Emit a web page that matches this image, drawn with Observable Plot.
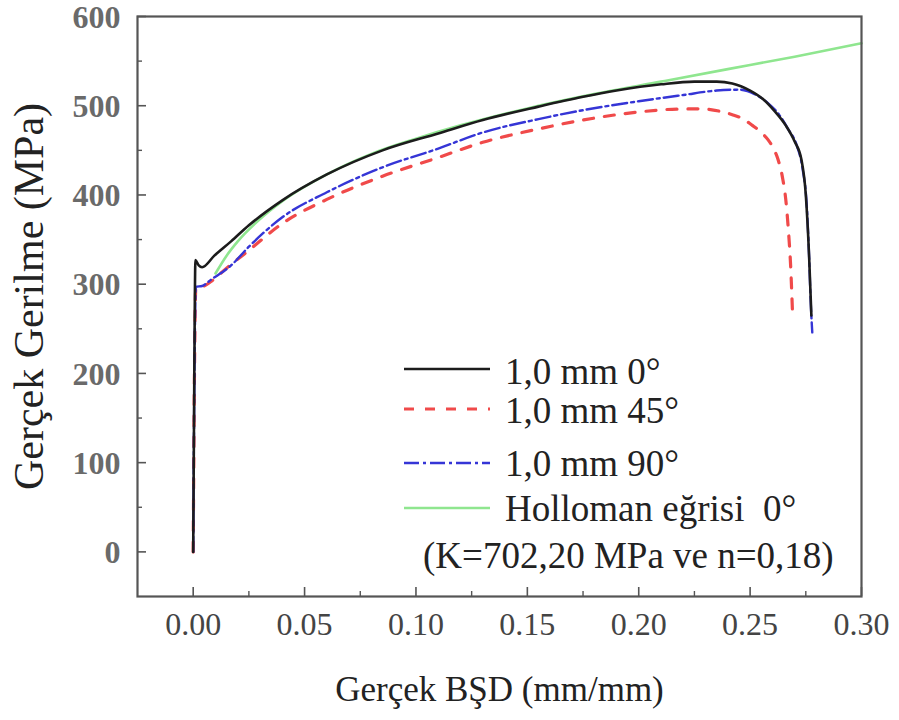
<!DOCTYPE html>
<html>
<head>
<meta charset="utf-8">
<script src="https://cdn.jsdelivr.net/npm/d3@7"></script>
<script src="https://cdn.jsdelivr.net/npm/@observablehq/plot@0.6"></script>
<style>
  html, body { margin: 0; padding: 0; background: #fff; }
  #wrap { position: relative; width: 899px; height: 720px; }
  #legend { position: absolute; left: 0; top: 0; pointer-events: none; }
</style>
</head>
<body>
<div id="wrap"></div>
<script>
// ---- data ----
const seriesNames = ["1,0 mm 0°", "1,0 mm 45°", "1,0 mm 90°", "Holloman eğrisi  0°"];
const noteText = "(K=702,20 MPa ve n=0,18)";
const xTitle = "Gerçek BŞD (mm/mm)";
const yTitle = "Gerçek Gerilme (MPa)";

const strain0 = [0, 0.0005, 0.001, 0.0025, 0.004, 0.0095, 0.017, 0.025, 0.04, 0.06, 0.085, 0.11, 0.13, 0.155, 0.175, 0.19, 0.21, 0.225, 0.235, 0.242, 0.25, 0.256, 0.261, 0.266, 0.270, 0.273, 0.275, 0.2765, 0.2775];
const stress0 = [0, 200, 327, 321, 319, 332, 348, 366, 394, 423, 450, 469, 484, 499, 510, 517, 524, 527, 527, 525, 517, 507, 494, 478, 460, 440, 400, 330, 265];

const strain45 = [0, 0.0005, 0.0012, 0.004, 0.008, 0.015, 0.025, 0.04, 0.06, 0.085, 0.11, 0.13, 0.155, 0.175, 0.2, 0.215, 0.228, 0.236, 0.242, 0.247, 0.251, 0.255, 0.258, 0.2605, 0.2625, 0.2645, 0.266, 0.2672, 0.2682, 0.269];
const stress45 = [0, 180, 296, 297, 303, 318, 338, 368, 395, 421, 442, 459, 474, 484, 493, 496, 496.5, 494, 490, 485, 478, 470, 462, 452, 440, 420, 395, 360, 320, 270];

const strain90 = [0, 0.0005, 0.0012, 0.004, 0.008, 0.017, 0.025, 0.04, 0.06, 0.085, 0.11, 0.13, 0.155, 0.175, 0.2, 0.22, 0.235, 0.245, 0.252, 0.258, 0.263, 0.267, 0.271, 0.2735, 0.2755, 0.2765, 0.2772, 0.2779];
const stress90 = [0, 180, 297, 298, 305, 321, 342, 375, 403, 431, 452, 470, 485, 495, 505, 512, 517, 518, 513, 503, 490, 474, 455, 430, 385, 330, 280, 246];

const strainH = [0.01, 0.015, 0.02, 0.03, 0.04, 0.06, 0.08, 0.10, 0.12, 0.15, 0.18, 0.21, 0.24, 0.27, 0.30];
const stressH = [312, 332, 348, 373, 393, 423, 446, 463, 478, 497, 513, 527, 541, 555, 570];

const xMajor = [0, 0.05, 0.10, 0.15, 0.20, 0.25, 0.30];
const xMinor = [0.025, 0.075, 0.125, 0.175, 0.225, 0.275];
const yMajor = [0, 100, 200, 300, 400, 500, 600];
const yMinor = [50, 150, 250, 350, 450, 550];

// ---- styles ----
const styles = [
  {stroke: "#1c1c1c", strokeWidth: 2.6, dash: null},
  {stroke: "#f04a4a", strokeWidth: 3.2, dash: "10,11"},
  {stroke: "#3535d6", strokeWidth: 2.4, dash: "15,4,3,4"},
  {stroke: "#8fe68f", strokeWidth: 2.6, dash: null}
];

const toRows = (xs, ys) => xs.map((x, i) => ({x, y: ys[i]}));
const rows0 = toRows(strain0, stress0);
const rows45 = toRows(strain45, stress45);
const rows90 = toRows(strain90, stress90);
const rowsH = toRows(strainH, stressH);

const W = 899, H = 720;
const mL = 137, mR = 38, mT = 16, mB = 124;
const plotW = W - mL - mR, plotH = H - mT - mB;
const font = "Liberation Serif, Times New Roman, serif";
const frameColor = "#555";

const lineOpts = (s) => ({x: "x", y: "y", stroke: s.stroke, strokeWidth: s.strokeWidth,
  strokeDasharray: s.dash || undefined, curve: "monotone-x"});

const chart = Plot.plot({
  width: W, height: H,
  marginLeft: mL, marginRight: mR, marginTop: mT, marginBottom: mB,
  style: {fontFamily: font, background: "#fff", overflow: "visible"},
  x: {domain: [-0.025, 0.30]},
  y: {domain: [-50, 600]},
  marks: [
    Plot.line(rowsH, lineOpts(styles[3])),
    Plot.line(rows45, lineOpts(styles[1])),
    Plot.line(rows90, lineOpts(styles[2])),
    Plot.line(rows0, lineOpts(styles[0])),
    // inward ticks
    Plot.ruleY(yMajor, {y: d => d, stroke: frameColor, strokeWidth: 1.6, insetRight: plotW - 9}),
    Plot.ruleY(yMinor, {y: d => d, stroke: frameColor, strokeWidth: 1.4, insetRight: plotW - 5}),
    Plot.ruleX(xMajor, {x: d => d, stroke: frameColor, strokeWidth: 1.6, insetTop: plotH - 9}),
    Plot.ruleX(xMinor, {x: d => d, stroke: frameColor, strokeWidth: 1.4, insetTop: plotH - 5}),
    Plot.frame({stroke: frameColor, strokeWidth: 2.2}),
    Plot.axisY({ticks: yMajor, tickSize: 0, tickPadding: 17, label: null, dy: 1,
      fontSize: 32, fontWeight: "bold", color: "#6a6a6a", tickFormat: d => String(d)}),
    Plot.axisX({ticks: xMajor, tickSize: 0, tickPadding: 16, label: null,
      fontSize: 32, color: "#444", tickFormat: d3.format(".2f")}),
    Plot.text([xTitle], {frameAnchor: "bottom", dy: 93, text: d => d, fontSize: 35,
      fill: "#222", lineAnchor: "middle", textAnchor: "middle"}),
    Plot.text([yTitle], {frameAnchor: "left", dx: -108, dy: -10, rotate: -90, text: d => d,
      fontSize: 42, fill: "#222", lineAnchor: "middle", textAnchor: "middle"})
  ]
});

const wrap = document.getElementById("wrap");
wrap.appendChild(chart);

// ---- legend overlay ----
const legendRows = [
  {label: seriesNames[0], style: styles[0], lineY: 369, baseY: 384},
  {label: seriesNames[1], style: styles[1], lineY: 409, baseY: 423},
  {label: seriesNames[2], style: styles[2], lineY: 463, baseY: 476},
  {label: seriesNames[3], style: styles[3], lineY: 508, baseY: 521}
];
const svg = d3.select(wrap).append("svg")
  .attr("id", "legend").attr("width", W).attr("height", H)
  .style("font-family", font);
const lg = svg.selectAll("g.row").data(legendRows).join("g");
lg.append("line")
  .attr("x1", 404).attr("x2", 490)
  .attr("y1", d => d.lineY).attr("y2", d => d.lineY)
  .attr("stroke", d => d.style.stroke)
  .attr("stroke-width", d => d.style.strokeWidth)
  .attr("stroke-dasharray", d => d.style.dash);
lg.append("text")
  .attr("x", 505).attr("y", d => d.baseY)
  .attr("font-size", 37).attr("fill", "#222")
  .attr("xml:space", "preserve")
  .style("white-space", "pre")
  .text(d => d.label);
svg.append("text")
  .attr("x", 423).attr("y", 568)
  .attr("font-size", 37).attr("fill", "#222")
  .text(noteText);
</script>
</body>
</html>
